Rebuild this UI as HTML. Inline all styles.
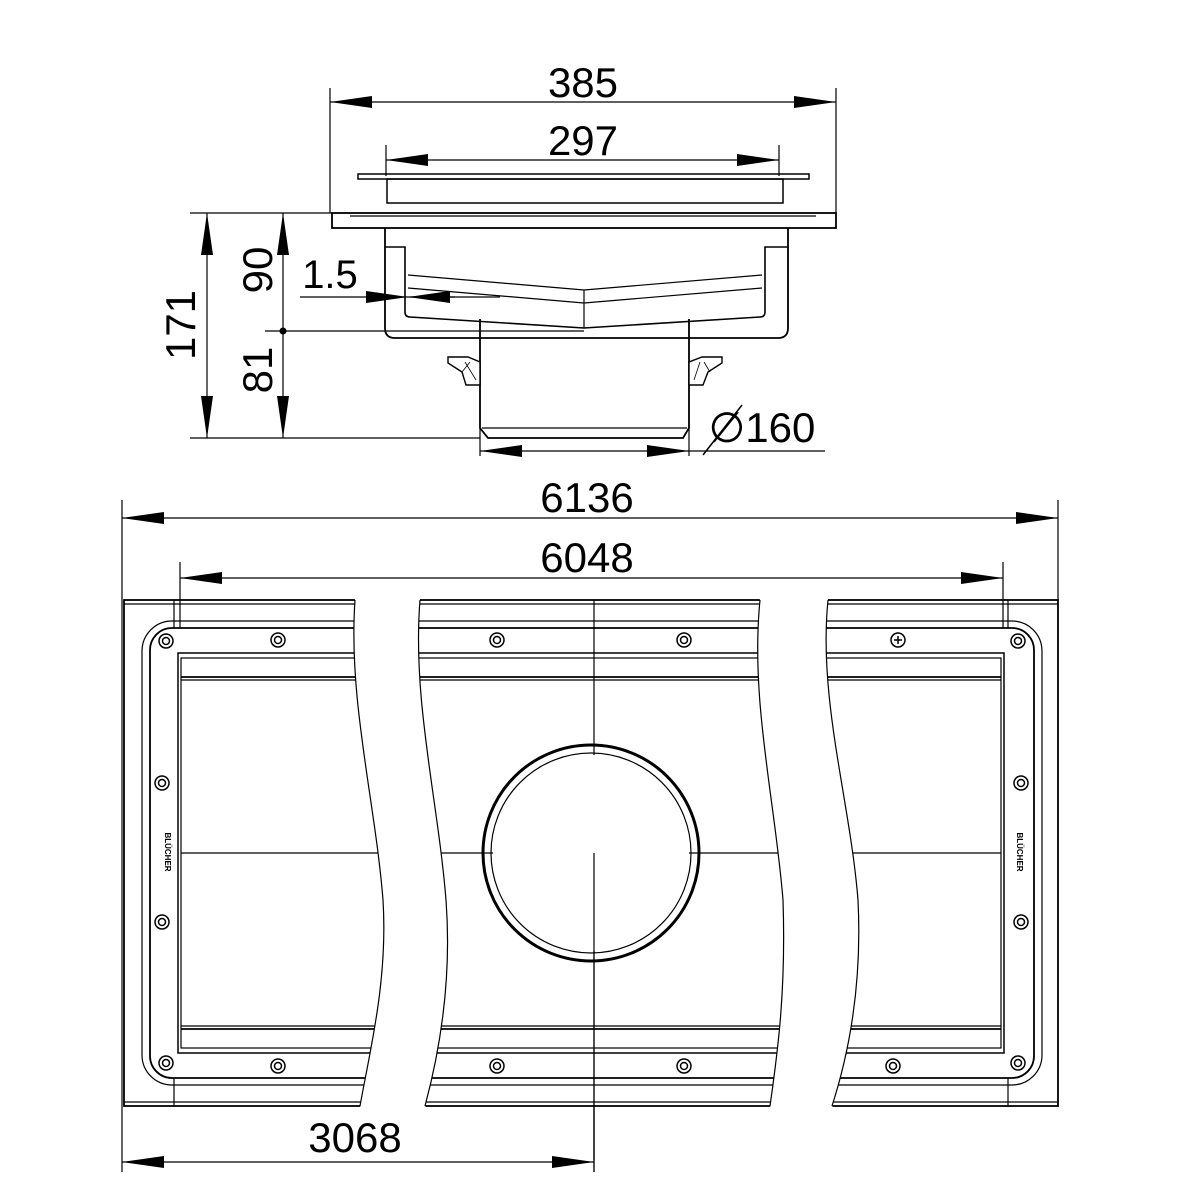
<!DOCTYPE html>
<html><head><style>html,body{margin:0;padding:0;background:#fff}svg{display:block}</style></head><body>
<svg width="1181" height="1181" viewBox="0 0 1181 1181" xmlns="http://www.w3.org/2000/svg" font-family="Liberation Sans, sans-serif">
<g stroke="#000" fill="none" stroke-width="1.2">
<line x1="330" y1="88" x2="330" y2="213"/><line x1="836" y1="88" x2="836" y2="213"/>
<line x1="330" y1="102" x2="836" y2="102"/>
<line x1="386" y1="145" x2="386" y2="176"/><line x1="779" y1="145" x2="779" y2="176"/>
<line x1="386" y1="160" x2="779" y2="160"/>
<rect x="358" y="174" width="451" height="5" stroke-width="1.5"/>
<rect x="387" y="179" width="396" height="24" stroke-width="1.5"/>
<rect x="332" y="213" width="504" height="15" stroke-width="1.8"/>
<line x1="350" y1="216" x2="816" y2="216"/>
<path d="M385 228 V328 Q385 338 395 338 H778 Q788 338 788 328 V228" stroke-width="1.8"/>
<path d="M385 247 H405 V312 Q405 317 410 317 L584 328 L760 317 Q765 317 765 312 V247 H788" stroke-width="1.6"/>
<path d="M408 275 L584 290 L762 275 M408 288 L584 303 L762 288 M584 290 V328"/>
<path d="M480 319 V428 L488 438 H683 L689 428 V319" stroke-width="1.8"/>
<line x1="482" y1="428" x2="687" y2="428"/>
<path d="M448 357 H468 L480 362 V385 H466 L462 372 L448 363 Z M722 357 H702 L689 362 V385 H703 L708 372 L722 363 Z" fill="#fff" stroke-width="1.4"/>
<path d="M465 362 L476 380 M470 362 L462 372 M700 362 L694 380 M704 362 L710 372" stroke-width="0.8"/>
<line x1="480" y1="428" x2="480" y2="456"/><line x1="689" y1="428" x2="689" y2="456"/>
<line x1="480" y1="451" x2="825" y2="451"/>
<line x1="190" y1="213" x2="332" y2="213"/>
<line x1="190" y1="438" x2="480" y2="438"/>
<line x1="265" y1="331" x2="584" y2="331"/>
<line x1="207" y1="213" x2="207" y2="438"/>
<line x1="283" y1="213" x2="283" y2="438"/>
<line x1="300" y1="297" x2="455" y2="297"/>
<line x1="410" y1="297" x2="500" y2="297"/>
<line x1="122" y1="500" x2="122" y2="1172"/><line x1="1058" y1="500" x2="1058" y2="600"/>
<line x1="122" y1="518" x2="1058" y2="518"/>
<line x1="180" y1="562" x2="180" y2="628"/><line x1="1003" y1="562" x2="1003" y2="628"/>
<line x1="180" y1="578" x2="1003" y2="578"/>
<line x1="594" y1="600" x2="594" y2="1172"/>
<line x1="122" y1="1162" x2="594" y2="1162"/>
<rect x="124" y="600" width="934" height="506" stroke-width="1.8"/>
<line x1="124" y1="604" x2="1058" y2="604"/><line x1="124" y1="1102" x2="1058" y2="1102"/>
<line x1="174" y1="600" x2="174" y2="628"/><line x1="1008" y1="600" x2="1008" y2="628"/>
<line x1="174" y1="1078" x2="174" y2="1106"/><line x1="1008" y1="1078" x2="1008" y2="1106"/>
<rect x="142" y="621" width="900" height="464" rx="30"/>
<rect x="150" y="628" width="884" height="450" rx="22" stroke-width="1.8"/>
<rect x="178" y="653" width="826" height="400" stroke-width="1.5"/>
<rect x="181" y="658" width="820" height="390"/>
<line x1="181" y1="677" x2="1001" y2="677" stroke-width="1.8"/><line x1="181" y1="680" x2="1001" y2="680"/>
<line x1="181" y1="1029" x2="1001" y2="1029" stroke-width="1.8"/><line x1="181" y1="1026" x2="1001" y2="1026"/>
<line x1="181" y1="853" x2="1001" y2="853"/>
<circle cx="591" cy="853" r="108" stroke-width="3"/>
<circle cx="591" cy="853" r="100"/>
</g>
<g fill="#fff" stroke="none">
<circle cx="591" cy="853" r="98"/>
</g>
<g stroke="#000" fill="none" stroke-width="1.2">
<line x1="594" y1="853" x2="594" y2="1160"/>
<g stroke-width="1.5">
<circle cx="278" cy="640" r="7"/><circle cx="278" cy="640" r="3.5"/>
<circle cx="497" cy="640" r="7"/><circle cx="497" cy="640" r="3.5"/>
<circle cx="684" cy="640" r="7"/><circle cx="684" cy="640" r="3.5"/>
<circle cx="898" cy="640" r="7"/><path d="M894 640 H902 M898 636 V644"/>
<circle cx="278" cy="1066" r="7"/><circle cx="278" cy="1066" r="3.5"/>
<circle cx="497" cy="1066" r="7"/><circle cx="497" cy="1066" r="3.5"/>
<circle cx="684" cy="1066" r="7"/><circle cx="684" cy="1066" r="3.5"/>
<circle cx="893" cy="1066" r="7"/><circle cx="893" cy="1066" r="3.5"/>
<circle cx="166" cy="641" r="7"/><circle cx="166" cy="641" r="3.5"/>
<circle cx="166" cy="1063" r="7"/><circle cx="166" cy="1063" r="3.5"/>
<circle cx="1018" cy="641" r="7"/><circle cx="1018" cy="641" r="3.5"/>
<circle cx="1018" cy="1063" r="7"/><circle cx="1018" cy="1063" r="3.5"/>
<circle cx="162" cy="783" r="7"/><circle cx="162" cy="783" r="3.5"/>
<circle cx="162" cy="922" r="7"/><circle cx="162" cy="922" r="3.5"/>
<circle cx="1021" cy="783" r="7"/><circle cx="1021" cy="783" r="3.5"/>
<circle cx="1021" cy="922" r="7"/><circle cx="1021" cy="922" r="3.5"/>
</g>
</g>
<g fill="#fff" stroke="none">
<path d="M355 598 C348 700 375 800 383 900 C388 980 370 1050 360 1108 L425 1108 C440 1050 452 980 446 900 C438 800 412 700 420 598 Z"/>
<path d="M760 598 C750 700 775 800 783 900 C786 990 778 1050 770 1108 L832 1108 C850 1050 862 980 858 900 C850 800 818 700 828 598 Z"/>
</g>
<g stroke="#000" fill="none" stroke-width="1.2">
<path d="M355 600 C348 700 375 800 383 900 C388 980 370 1050 360 1106"/>
<path d="M420 600 C412 700 438 800 446 900 C452 980 440 1050 425 1106"/>
<path d="M760 600 C750 700 775 800 783 900 C786 990 778 1050 770 1106"/>
<path d="M828 600 C818 700 850 800 858 900 C862 980 850 1050 832 1106"/>
<line x1="594" y1="1106" x2="594" y2="1172"/>
</g>
<g fill="#000">
<polygon points="330,102 372,96 372,108"/><polygon points="836,102 794,96 794,108"/>
<polygon points="386,160 428,154 428,166"/><polygon points="779,160 737,154 737,166"/>
<polygon points="480,451 522,445 522,457"/><polygon points="689,451 647,445 647,457"/>
<polygon points="207,213 201,255 213,255"/><polygon points="207,438 201,396 213,396"/>
<polygon points="283,213 277,255 289,255"/><polygon points="283,438 277,396 289,396"/>
<circle cx="283" cy="331" r="3.5"/>
<polygon points="408,297 366,291 366,303"/><polygon points="408,297 450,291 450,303"/>
<polygon points="122,518 164,512 164,524"/><polygon points="1058,518 1016,512 1016,524"/>
<polygon points="180,578 222,572 222,584"/><polygon points="1003,578 961,572 961,584"/>
<polygon points="122,1162 164,1156 164,1168"/><polygon points="594,1162 552,1156 552,1168"/>
</g>
<g fill="#000" font-size="42" text-anchor="middle">
<text x="583" y="97">385</text>
<text x="583" y="155">297</text>
<text x="587" y="512">6136</text>
<text x="587" y="572">6048</text>
<text x="355" y="1152">3068</text>
<text x="762" y="442">∅160</text>
<text x="330" y="288" font-size="40">1.5</text>
<text transform="translate(195,325) rotate(-90)">171</text>
<text transform="translate(272,270) rotate(-90)">90</text>
<text transform="translate(272,370) rotate(-90)">81</text>
<text transform="translate(165,852) rotate(90)" font-size="8" font-weight="bold">BLÜCHER</text>
<text transform="translate(1017,852) rotate(90)" font-size="8" font-weight="bold">BLÜCHER</text>
</g>
<line x1="703" y1="455" x2="742" y2="405" stroke="#000" stroke-width="1.5"/>
</svg>
</body></html>
